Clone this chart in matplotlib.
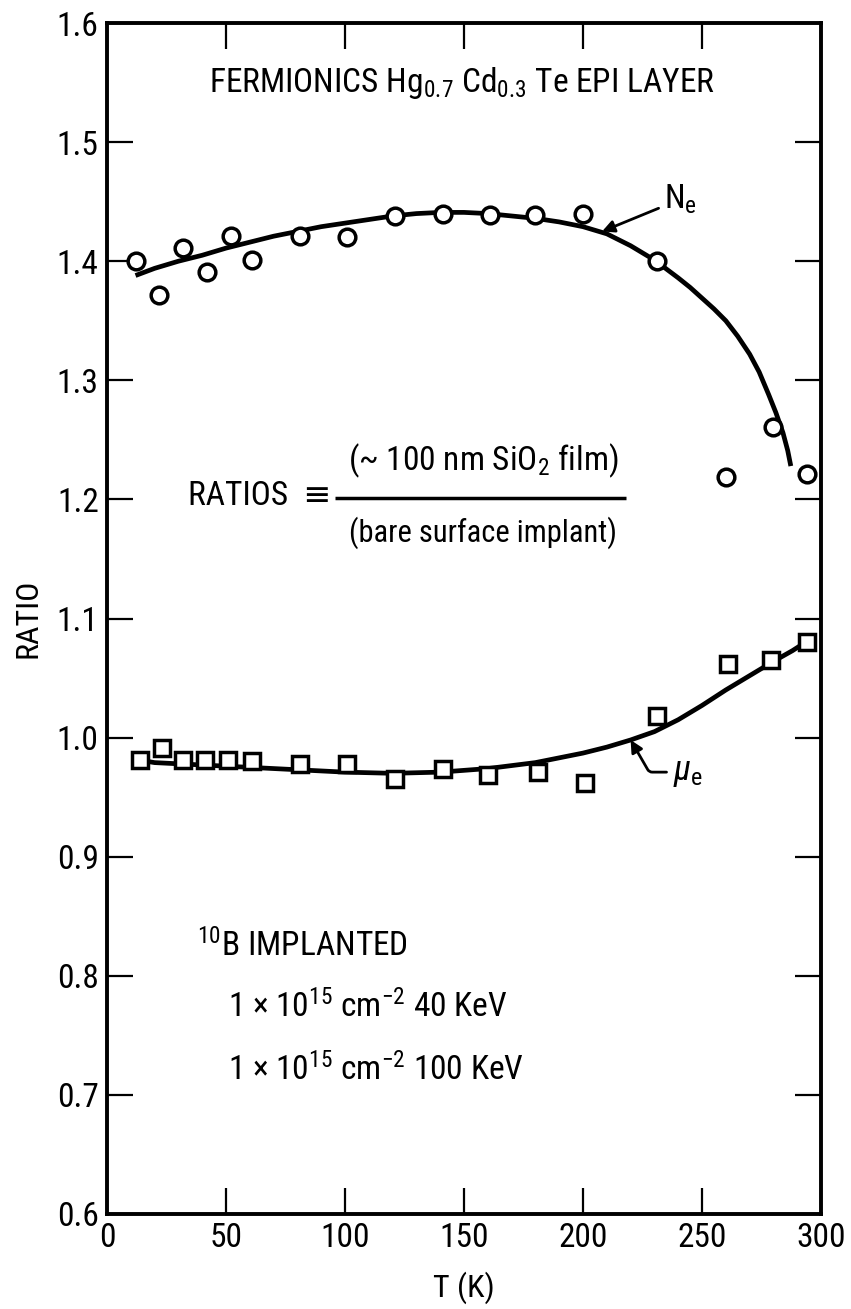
import matplotlib
matplotlib.use('Agg')
import matplotlib.pyplot as plt
from matplotlib import font_manager as fm

# pick a condensed sans close to the typewriter-era Helvetica Condensed
available = {f.name for f in fm.fontManager.ttflist}
preferred = ['Roboto Condensed', 'Liberation Sans Narrow', 'Archivo Narrow',
             'PT Sans Narrow', 'Sofia Sans Condensed', 'Encode Sans Condensed',
             'Pragati Narrow', 'Liberation Sans']
NARROW = next((f for f in preferred if f in available), 'DejaVu Sans')

plt.rcParams['font.family'] = [NARROW, 'DejaVu Sans']
plt.rcParams['mathtext.fontset'] = 'custom'
plt.rcParams['mathtext.rm'] = NARROW
plt.rcParams['mathtext.it'] = NARROW + ':italic'
plt.rcParams['mathtext.bf'] = NARROW + ':bold'

# data
ne_T = [12, 22, 32, 42, 52, 61, 81, 101, 121, 141, 161, 180, 200, 231, 260, 280, 294]
ne_ratio = [1.400, 1.372, 1.411, 1.391, 1.421, 1.401, 1.421, 1.420, 1.438, 1.440,
            1.439, 1.439, 1.440, 1.400, 1.219, 1.261, 1.221]

mu_T = [14, 23, 32, 41, 51, 61, 81, 101, 121, 141, 160, 181, 201, 231, 261, 279, 294]
mu_ratio = [0.981, 0.991, 0.981, 0.981, 0.981, 0.980, 0.978, 0.978, 0.965, 0.974,
            0.969, 0.971, 0.962, 1.018, 1.062, 1.065, 1.080]

# hand-drawn fit curves
ne_fit_T = [12, 20, 30, 40, 50, 60, 70, 80, 90, 100, 110, 120, 130, 140, 150, 160,
            170, 180, 190, 200, 210, 220, 230, 240, 245, 250, 255, 260, 265, 270,
            274, 278, 281, 284, 286, 287.3]
ne_fit = [1.388, 1.394, 1.400, 1.405, 1.411, 1.416, 1.421, 1.425, 1.429, 1.432,
          1.435, 1.438, 1.440, 1.441, 1.441, 1.440, 1.438, 1.436, 1.433, 1.429,
          1.423, 1.413, 1.401, 1.386, 1.378, 1.369, 1.360, 1.350, 1.337, 1.322,
          1.307, 1.288, 1.273, 1.256, 1.241, 1.228]

mu_fit_T = [14, 20, 40, 60, 80, 100, 120, 140, 160, 180, 200, 210, 220, 230, 240,
            250, 260, 270, 280, 288, 295]
mu_fit = [0.981, 0.979, 0.977, 0.975, 0.973, 0.971, 0.970, 0.971, 0.974, 0.979,
          0.987, 0.992, 0.998, 1.005, 1.015, 1.027, 1.040, 1.052, 1.064, 1.073, 1.082]

x_ticks = [0, 50, 100, 150, 200, 250, 300]
y_ticks = [0.6, 0.7, 0.8, 0.9, 1.0, 1.1, 1.2, 1.3, 1.4, 1.5, 1.6]

fig = plt.figure(figsize=(8.51, 13.09), dpi=100)
ax = fig.add_axes([0.1257, 0.0726, 0.8391, 0.9098])

ax.plot(ne_fit_T, ne_fit, color='black', lw=3.4, solid_capstyle='butt',
        solid_joinstyle='round')
ax.plot(mu_fit_T, mu_fit, color='black', lw=3.4, solid_capstyle='butt',
        solid_joinstyle='round')
ax.plot(ne_T, ne_ratio, 'o', ms=12, mfc='white', mec='black', mew=2.5, zorder=3,
        clip_on=False)
ax.plot(mu_T, mu_ratio, 's', ms=11.5, mfc='white', mec='black', mew=2.5, zorder=3,
        clip_on=False)

ax.set_xlim(0, 300)
ax.set_ylim(0.6, 1.6)
ax.set_xticks(x_ticks)
ax.set_yticks(y_ticks)
ax.set_xticklabels([str(t) for t in x_ticks])
ax.set_yticklabels([f'{t:.1f}' for t in y_ticks])
ax.tick_params(direction='in', length=19, width=1.6, labelsize=24, top=True, right=True,
               pad=6)
for s in ax.spines.values():
    s.set_linewidth(2.8)

ax.set_xlabel('T (K)', fontsize=23, labelpad=12)
ax.set_ylabel('RATIO', fontsize=23, labelpad=10)

# annotations
ax.text(149, 1.55, r'FERMIONICS Hg$_{0.7}$ Cd$_{0.3}$ Te EPI LAYER', fontsize=24,
        ha='center', va='center')

ax.annotate(r'N$_{\rm e}$', xy=(208, 1.425), xytext=(234, 1.452), fontsize=24,
            ha='left', va='center',
            arrowprops=dict(arrowstyle='-|>', color='black', lw=2, mutation_scale=18,
                            shrinkA=2, shrinkB=0))
ax.annotate(r'$\mu_{\rm e}$', xy=(220, 0.998), xytext=(238, 0.971), fontsize=25,
            ha='left', va='center',
            arrowprops=dict(arrowstyle='-|>', color='black', lw=2, mutation_scale=18,
                            shrinkA=3, shrinkB=0,
                            connectionstyle='angle,angleA=0,angleB=120,rad=3'))

ax.text(34, 1.203, 'RATIOS  \u2261', fontsize=24, ha='left', va='center')
ax.hlines(1.201, 96, 218, color='black', lw=2.5)
ax.text(158, 1.232, r'(~ 100 nm SiO$_2$ film)', fontsize=24, ha='center', va='center')
ax.text(158, 1.172, '(bare surface implant)', fontsize=22, ha='center', va='center')

ax.text(38, 0.825, r'$^{10}$B IMPLANTED', fontsize=24, ha='left', va='center')
ax.text(51, 0.774, r'1 $\times$ 10$^{15}$ cm$^{-2}$ 40 KeV', fontsize=24, ha='left',
        va='center')
ax.text(51, 0.721, r'1 $\times$ 10$^{15}$ cm$^{-2}$ 100 KeV', fontsize=24, ha='left',
        va='center')

fig.savefig('out.png', dpi=100)
